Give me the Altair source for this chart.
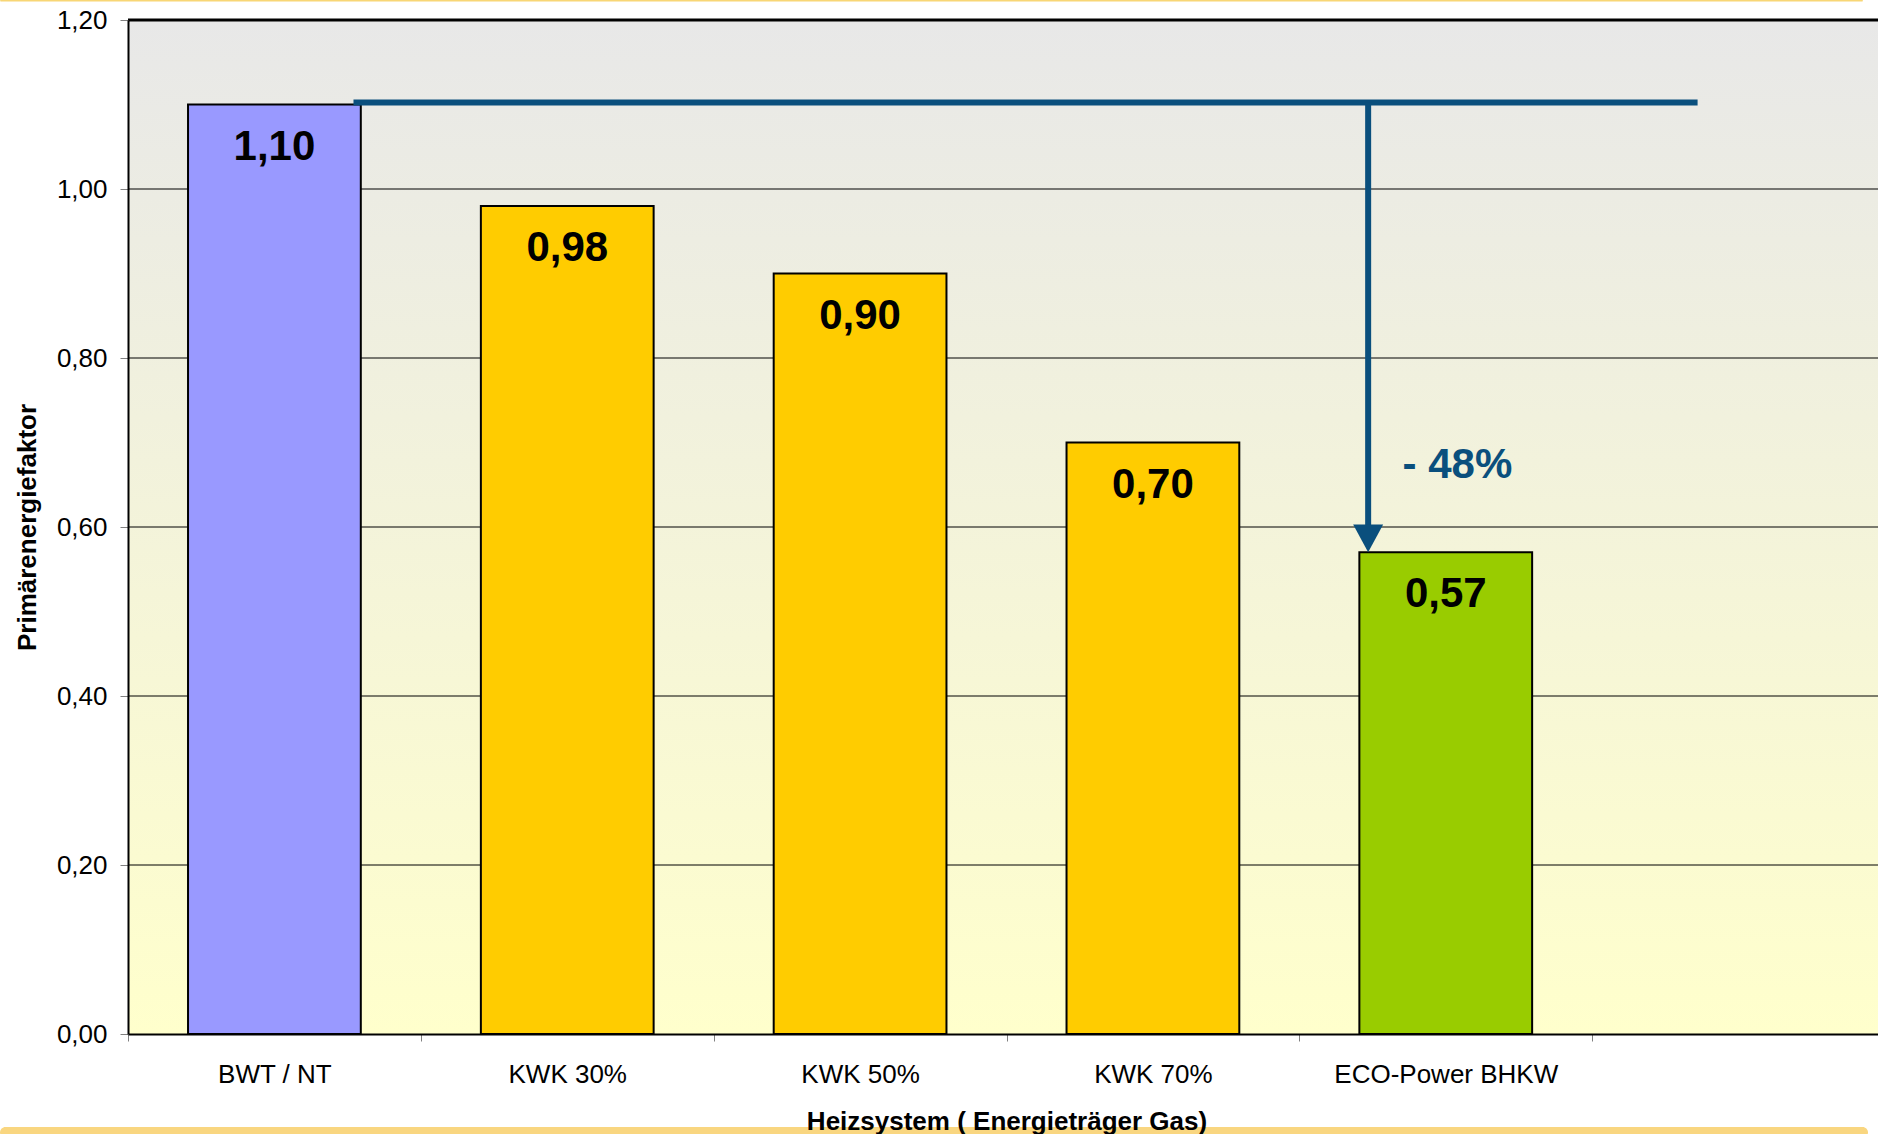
import altair as alt
import pandas as pd

# Primary energy factor per heating system (energy carrier: gas)
CATEGORIES = ["BWT / NT", "KWK 30%", "KWK 50%", "KWK 70%", "ECO-Power BHKW"]
VALUES = [1.10, 0.98, 0.90, 0.70, 0.57]
BAR_COLORS = ["#9999ff", "#ffcc00", "#ffcc00", "#ffcc00", "#99cc00"]
EMPTY_SLOT = " "
Y_TICKS = [0.0, 0.2, 0.4, 0.6, 0.8, 1.0, 1.2]

# Reduction arrow: from the BWT level down to the ECO-Power bar
ARROW_LEVEL = 1.10
ARROW_TARGET = 0.57
ARROW_LABEL = "- 48%"
# annotation positions in category-slot units (0 .. 6)
ARROW_X_START = 0.77
ARROW_X_END = 5.36
ARROW_X_DROP = 4.235
LABEL_X = 4.54
LABEL_Y = 0.658

W, H = 1750, 1014
SLOT_SPAN = 1757  # six category slots; the last one runs past the right edge
FONT = "Liberation Sans"
BLUE = "#0a4f7d"

df = pd.DataFrame({"system": CATEGORIES, "value": VALUES})
one = alt.Data(values=[{}])

slot_x = alt.Scale(domain=CATEGORIES + [EMPTY_SLOT], paddingInner=0, paddingOuter=0,
                   range=[0, SLOT_SPAN])
y_scale = alt.Scale(domain=[0, 1.2], nice=False)
anno_x = alt.Scale(domain=[0, 6], nice=False, zero=False, range=[0, SLOT_SPAN])
dec_expr = "replace(format(datum.value, '.2f'), '.', ',')"

background = alt.Chart(one).mark_rect(
    color=alt.Gradient(
        gradient="linear",
        stops=[alt.GradientStop(color="#e8e8e8", offset=0),
               alt.GradientStop(color="#ffffcc", offset=1)],
        x1=0, x2=0, y1=0, y2=1,
    )
).encode(x=alt.value(0), x2=alt.value(W), y=alt.value(0), y2=alt.value(H))

grid = alt.Chart(pd.DataFrame({"tick": Y_TICKS[1:]})).mark_rule(color="black").encode(
    y=alt.Y("tick:Q", scale=y_scale),
    strokeWidth=alt.condition("datum.tick >= 1.2", alt.value(3), alt.value(1)),
)

bars = alt.Chart(df).mark_bar(
    width=alt.RelativeBandSize(0.59), stroke="black", strokeWidth=2
).encode(
    x=alt.X("system:N", scale=slot_x, sort=None, axis=alt.Axis(
        title="Heizsystem ( Energieträger Gas)", labelAngle=0, tickBand="extent",
        tickSize=7, tickColor="#808080", domainColor="black", domainWidth=2,
        labelFont=FONT, labelFontSize=26, labelColor="black", labelPadding=20,
        labelLimit=400, titleFont=FONT, titleFontSize=26, titleFontWeight="bold",
        titleColor="black", titlePadding=21, grid=False, zindex=1,
    )),
    y=alt.Y("value:Q", scale=y_scale, axis=alt.Axis(
        title="Primärenergiefaktor", values=Y_TICKS, labelExpr=dec_expr,
        tickSize=8, tickColor="#808080", domainColor="black", domainWidth=2,
        labelFont=FONT, labelFontSize=26, labelColor="black", labelPadding=13,
        titleFont=FONT, titleFontSize=26, titleFontWeight="bold",
        titleColor="black", titlePadding=16, grid=False, zindex=1,
    )),
    color=alt.Color("system:N", scale=alt.Scale(domain=CATEGORIES, range=BAR_COLORS), legend=None),
)

values_text = alt.Chart(df).transform_calculate(
    label=dec_expr
).mark_text(
    font=FONT, fontSize=42, fontWeight="bold", color="black",
    align="center", baseline="alphabetic", dy=55,
).encode(
    x=alt.X("system:N", scale=slot_x, sort=None, axis=None),
    y=alt.Y("value:Q", scale=y_scale),
    text="label:N",
)

arrow_h = alt.Chart(one).mark_rule(color=BLUE, strokeWidth=6, yOffset=-2).encode(
    x=alt.X(datum=ARROW_X_START, type="quantitative", scale=anno_x, axis=None),
    x2=alt.X2(datum=ARROW_X_END),
    y=alt.Y(datum=ARROW_LEVEL, type="quantitative"),
)

arrow_v = alt.Chart(one).mark_rule(color=BLUE, strokeWidth=6, yOffset=-2, y2Offset=-14).encode(
    x=alt.X(datum=ARROW_X_DROP, type="quantitative", scale=anno_x, axis=None),
    y=alt.Y(datum=ARROW_LEVEL, type="quantitative"),
    y2=alt.Y2(datum=ARROW_TARGET),
)

arrow_head = alt.Chart(one).mark_point(
    shape="M-1,-0.93L1,-0.93L0,0.93Z", size=900, filled=True,
    color=BLUE, opacity=1, strokeWidth=0, yOffset=-14,
).encode(
    x=alt.X(datum=ARROW_X_DROP, type="quantitative", scale=anno_x, axis=None),
    y=alt.Y(datum=ARROW_TARGET, type="quantitative"),
)

arrow_label = alt.Chart(one).mark_text(
    font=FONT, fontSize=42, fontWeight="bold", color=BLUE,
    align="center", baseline="alphabetic",
).encode(
    x=alt.X(datum=LABEL_X, type="quantitative", scale=anno_x, axis=None),
    y=alt.Y(datum=LABEL_Y, type="quantitative"),
    text=alt.value(ARROW_LABEL),
)

# slide frame strips above and below the chart
frame_top = alt.Chart(one).mark_rect(color="#f8d675", cornerRadius=1).encode(
    x=alt.value(-128), x2=alt.value(1735), y=alt.value(-20), y2=alt.value(-18.5)
)
frame_bottom = alt.Chart(one).mark_rect(color="#f9d680", cornerRadius=7).encode(
    x=alt.value(-128), x2=alt.value(1740), y=alt.value(1107), y2=alt.value(1118)
)

chart = alt.layer(
    background, grid, bars, values_text, arrow_h, arrow_v, arrow_head, arrow_label,
    frame_top, frame_bottom,
).resolve_scale(x="independent").properties(
    width=W, height=H, autosize="none",
    padding={"left": 128, "top": 20, "right": 0, "bottom": 100},
    background="white",
).configure_view(stroke=None)

chart.save("out.html", embed_options={"renderer": "svg", "actions": False})
